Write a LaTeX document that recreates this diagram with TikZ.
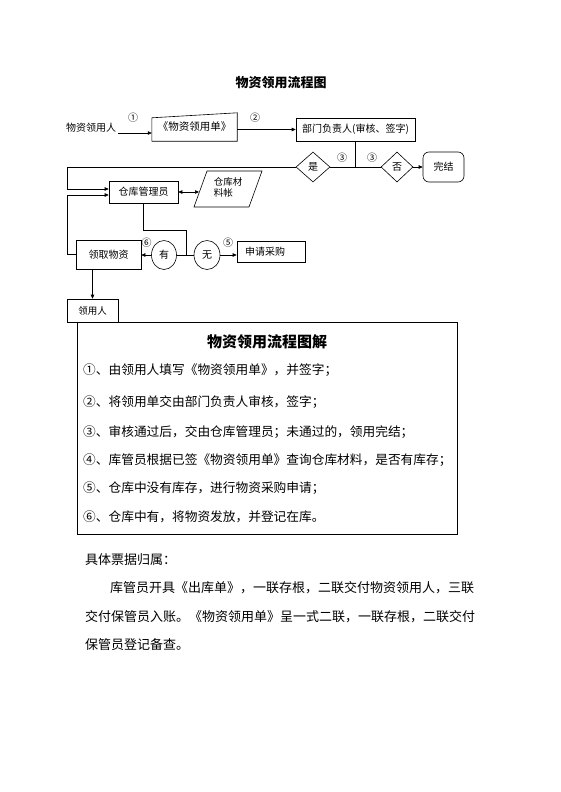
\documentclass[tikz,border=0pt]{standalone}
\usepackage{fontspec}
\setmainfont{Noto Sans CJK SC}
\usetikzlibrary{shapes.geometric,arrows.meta,calc}
\begin{document}
\begin{tikzpicture}[x=1pt,y=-1pt,
  every node/.style={font=\fontsize{10}{12}\selectfont, inner sep=0pt},
  box/.style={draw, line width=0.6pt},
  line/.style={line width=0.6pt},
  arr/.style={line width=0.6pt, -{Triangle[length=4pt,width=3.5pt]}},
  darr/.style={line width=0.6pt, {Triangle[length=4pt,width=3.5pt]}-{Triangle[length=4pt,width=3.5pt]}},
  num/.style={font=\fontsize{10}{12}\selectfont},
  dia/.style={draw, diamond, line width=0.6pt, minimum height=30pt},
  ell/.style={draw, ellipse, line width=0.6pt, minimum height=29pt},
  item/.style={anchor=west, font=\fontsize{12.7}{15}\selectfont},
  para/.style={anchor=west, font=\fontsize{13}{15}\selectfont}]
\useasboundingbox (0,0) rectangle (560,792);
\fill[white] (0,0) rectangle (560,792);

\node[font=\bfseries\fontsize{13}{15}\selectfont] (title) at (281,83) {物资领用流程图};

% row 1
\node (applicant) at (91,128) {物资领用人};
\node[minimum width=85pt, minimum height=28pt, font=\fontsize{10.5}{12}\selectfont] (form) at (194.5,127) {《物资领用单》};
\draw[line] (form.south west) -- ($(form.north west)+(0,5)$) -- (form.north east) -- (form.south east) -- cycle;
\coordinate (a1) at ($(applicant.east)+(2,5)$);
\draw[arr] (a1) -- (a1 -| form.west);
\node[num] (n1) at (133,118) {①};
\node[box, minimum width=119pt, minimum height=23pt] (dept) at (355.5,129.5) {部门负责人(审核、签字)};
\draw[arr] (form.east |- dept.west) -- (dept.west);
\node[num] (n2) at (255,118) {②};

% decision row
\node[dia, minimum width=34pt] (yes) at (313,167) {是};
\node[dia, minimum width=32pt] (no) at (397,167) {否};
\node[box, rounded corners=6pt, minimum width=41pt, minimum height=30pt] (done) at (443.5,167) {完结};
\coordinate (J1) at (dept.south |- yes.east);
\draw[line] (dept.south) -- (J1);
\draw[line] (yes.east) -- (no.west);
\draw[arr] (no.east) -- (done.west);
\node[num] (n3a) at (342,158) {③};
\node[num] (n3b) at (372,158) {③};

% keeper row
\node[box, minimum width=69pt, minimum height=22pt] (keeper) at (143.5,192) {仓库管理员};
\coordinate (L1) at (67,167);
\draw[arr] (yes.west) -- (L1) |- ($(keeper.west)+(0,-3)$);
\node[align=left, font=\fontsize{9.5}{11.5}\selectfont] (ledger) at (228,187.5) {仓库材\\料帐};
\draw[line] (207,171) -- (262,171) -- (249,207) -- (194,207) -- cycle;
\coordinate (LL) at (199,192);
\draw[darr] (keeper.east) -- (LL);

% stock row
\node[ell, minimum width=25pt] (have) at (164,255) {有};
\node[ell, minimum width=26pt] (none) at (207,255) {无};
\coordinate (J2) at (186,255);
\draw[line] (keeper.south) |- (186,230) -- (J2);
\draw[line] (have.east) -- (none.west);
\node[box, minimum width=65pt, minimum height=29pt] (get) at (108.5,254.5) {领取物资};
\draw[arr] (have.west) -- (have.west -| get.east);
\coordinate (L2) at (67,254.5);
\draw[arr] (get.west) -- (L2) |- ($(keeper.west)+(0,3)$);
\node[box, text width=52pt, align=left, inner xsep=8pt, minimum height=21pt] (apply) at (271,251.5) {申请采购};
\draw[arr] (none.east) -- (none.east -| apply.west);
\node[num] (n6) at (146.5,243) {⑥};
\node[num] (n5) at (228,243) {⑤};

% user
\node[box, minimum width=51pt, minimum height=23pt, font=\fontsize{9.5}{11}\selectfont] (user) at (92.5,310.5) {领用人};
\draw[arr] (user.north |- get.south) -- (user.north);

% explanation box
\node[box, minimum width=380pt, minimum height=212pt] (explain) at (267,428) {};
\node[font=\bfseries\fontsize{15}{18}\selectfont] (etitle) at (267,342) {物资领用流程图解};
\node[item] (i1) at (83,370) {①、由领用人填写《物资领用单》，并签字；};
\node[item] (i2) at (83,402) {②、将领用单交由部门负责人审核，签字；};
\node[item] (i3) at (83,432) {③、审核通过后，交由仓库管理员；未通过的，领用完结；};
\node[item] (i4) at (83,460) {④、库管员根据已签《物资领用单》查询仓库材料，是否有库存；};
\node[item] (i5) at (83,488) {⑤、仓库中没有库存，进行物资采购申请；};
\node[item] (i6) at (83,517) {⑥、仓库中有，将物资发放，并登记在库。};

% paragraph
\node[para] (p0) at (85,560) {具体票据归属：};
\node[para] (p1) at (110,588) {库管员开具《出库单》，一联存根，二联交付物资领用人，三联};
\node[para] (p2) at (85,617) {交付保管员入账。《物资领用单》呈一式二联，一联存根，二联交付};
\node[para] (p3) at (85,645) {保管员登记备查。};
\end{tikzpicture}
\end{document}
